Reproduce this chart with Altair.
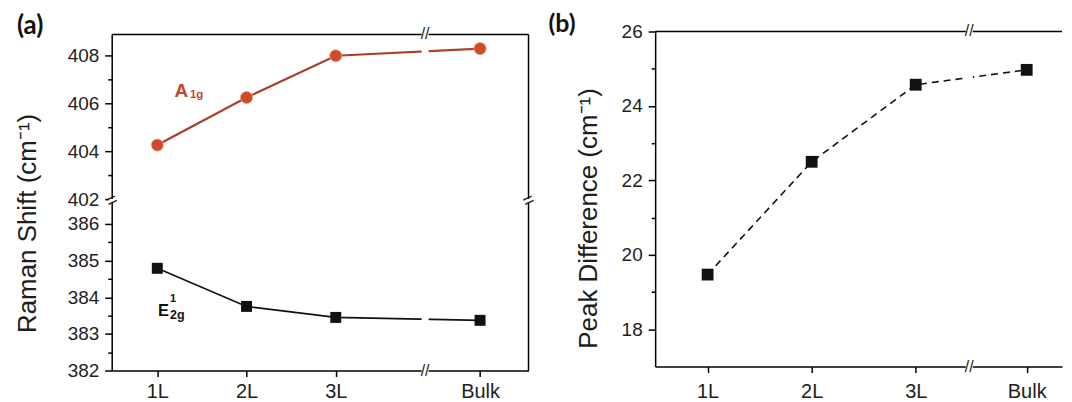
import altair as alt
import pandas as pd

# ---- data ----
layers = ["1L", "2L", "3L", "Bulk"]
a1g = [404.26, 406.25, 408.0, 408.3]
e2g = [384.79, 383.75, 383.45, 383.37]
peak_diff = [19.47, 22.5, 24.57, 24.97]

a_major = [382, 383, 384, 385, 386, 402, 404, 406, 408]
a_minor = [382.5, 383.5, 384.5, 385.5, 403, 405, 407]
b_major = [18, 20, 22, 24, 26]
b_minor = [19, 21, 23, 25]

idx = list(range(len(layers)))
df = pd.DataFrame({"idx": idx, "layer": layers, "a1g": a1g, "e2g": e2g, "diff": peak_diff})
one = pd.DataFrame({"k": [0]})

FONT = "Liberation Sans"
BOLDFONT = "Lato"
INK = "#1e1e1e"
label_js = "[" + ",".join("'" + l + "'" for l in layers) + "][datum.value]"


def minor_test(vals):
    return "indexof([" + ",".join(str(v) for v in vals) + "], datum.value) >= 0"


def y_axis(major, minor, title, tx, ty):
    t = minor_test(minor)
    vals = major + minor
    return alt.Axis(
        values=vals,
        tickCount=len(vals) + 4,
        format=".0f",
        labelExpr=t + " ? '' : datum.label",
        tickSize={"condition": {"test": t, "value": 4}, "value": 7},
        labelPadding=6,
        labelOverlap=False,
        grid=False,
        zindex=0,
        title=title,
        titleX=tx,
        titleY=ty,
        titleAngle=270,
        titleAlign="center",
        titleBaseline="middle",
        titleFontSize=26,
        titleFont=FONT,
        titleFontWeight="normal",
        titleColor=INK,
    )


def x_axis(pad):
    return alt.Axis(
        values=idx,
        tickCount=len(idx) + 2,
        labelExpr=label_js,
        title=None,
        grid=False,
        tickSize=6,
        labelFontSize=20,
        labelPadding=pad,
        labelFlush=False,
        labelOverlap=False,
        labelAngle=0,
        zindex=0,
    )


def rule(color="black", width=1.5):
    return alt.Chart(one).mark_rule(color=color, strokeWidth=width)


def txt(text, size, weight="normal", color=INK, font=FONT, align="left",
        baseline="alphabetic", angle=0):
    return alt.Chart(one).mark_text(text=text, fontSize=size, fontWeight=weight,
                                    color=color, font=font, align=align,
                                    baseline=baseline, angle=angle)


# ---------------- panel (a) ----------------
WA, HA = 418, 340
xa = alt.Scale(domain=[-0.511, 2, 2.5, 3, 3.5], range=[0, 224.7, 314.3, 369.4, WA],
               nice=False, zero=False)
ya = alt.Scale(domain=[382, 386.6, 402, 408.89], range=[HA, 171, 168, 3],
               nice=False, zero=False)

base_a = alt.Chart(df)
xa_enc = alt.X("idx:Q", scale=xa, axis=x_axis(5))
ya_axis = y_axis(a_major, a_minor, "Raman Shift (cm⁻¹)", -84, 192)

a_top = rule().encode(x=alt.value(0), x2=alt.value(WA), y=alt.value(3))
a_right = rule().encode(x=alt.value(WA), y=alt.value(3), y2=alt.value(HA))

line_a1g = base_a.mark_line(color="#a9402a", strokeWidth=2.2).encode(
    x=xa_enc, y=alt.Y("a1g:Q", scale=ya, axis=ya_axis))
pts_a1g = base_a.mark_circle(size=150, fill="#cd4a2d", stroke="#eab07a",
                             strokeWidth=0.8, opacity=1).encode(x="idx:Q", y="a1g:Q")
line_e2g = base_a.mark_line(color="#111111", strokeWidth=1.6).encode(x="idx:Q", y="e2g:Q")
pts_e2g = base_a.mark_square(size=121, color="#111111", opacity=1).encode(x="idx:Q", y="e2g:Q")

a_gap_v = rule("white", 7).encode(x=alt.datum(2.5), y=alt.value(0), y2=alt.value(HA + 3))
a_gap_h = rule("white", 3).encode(y=alt.datum(394), x=alt.value(-3), x2=alt.value(WA + 3))

a_brk_top = txt("//", 16, align="center", baseline="middle").encode(x=alt.datum(2.5), y=alt.value(3))
a_brk_bot = txt("//", 16, align="center", baseline="middle").encode(x=alt.datum(2.5), y=alt.value(HA))
a_brk_left = txt("=", 19, align="center", baseline="middle", angle=335).encode(x=alt.value(0), y=alt.datum(394))
a_brk_right = txt("=", 19, align="center", baseline="middle", angle=335).encode(x=alt.value(WA), y=alt.datum(394))

lab_a = txt("(a)", 26, "bold", "#111111", BOLDFONT, baseline="top").encode(x=alt.value(-95), y=alt.value(-18))
lab_A = txt("A", 19, "bold", "#c4472c").encode(x=alt.value(63), y=alt.value(65.4))
lab_A_sub = txt("1g", 11.5, "bold", "#c4472c").encode(x=alt.value(78.4), y=alt.value(67))
lab_E = txt("E", 16.5, "bold", "#111111").encode(x=alt.value(46.5), y=alt.value(285))
lab_E_sup = txt("1", 11, "bold", "#111111").encode(x=alt.value(58.5), y=alt.value(271.7))
lab_E_sub = txt("2g", 12.5, "bold", "#111111").encode(x=alt.value(58.5), y=alt.value(288))

panel_a = alt.layer(
    line_a1g, a_top, a_right, pts_a1g, line_e2g, pts_e2g,
    a_gap_v, a_gap_h, a_brk_top, a_brk_bot, a_brk_left, a_brk_right,
    lab_a, lab_A, lab_A_sub, lab_E, lab_E_sup, lab_E_sub,
).properties(width=WA, height=HA)

# ---------------- panel (b) ----------------
WB, HB = 408, 336
xb = alt.Scale(domain=[-0.504, 2, 2.5, 3, 3.5], range=[0, 261.3, 315, 372.6, WB],
               nice=False, zero=False)
yb = alt.Scale(domain=[17, 26], nice=False, zero=False)

base_b = alt.Chart(df)
line_b = base_b.mark_line(color="#111111", strokeWidth=1.6, strokeDash=[7, 5]).encode(
    x=alt.X("idx:Q", scale=xb, axis=x_axis(9.5)),
    y=alt.Y("diff:Q", scale=yb, axis=y_axis(b_major, b_minor, "Peak Difference (cm⁻¹)", -67, 187)),
)
pts_b = base_b.mark_square(size=140, color="#111111", opacity=1).encode(x="idx:Q", y="diff:Q")
b_top = rule().encode(x=alt.value(0), x2=alt.value(WB), y=alt.value(0))
b_gap_v = rule("white", 7).encode(x=alt.datum(2.5), y=alt.value(-3), y2=alt.value(HB + 3))
b_brk_top = txt("//", 16, align="center", baseline="middle").encode(x=alt.datum(2.5), y=alt.value(0))
b_brk_bot = txt("//", 16, align="center", baseline="middle").encode(x=alt.datum(2.5), y=alt.value(HB))
lab_b = txt("(b)", 25, "bold", "#111111", BOLDFONT, baseline="top").encode(x=alt.value(-107), y=alt.value(-19))

panel_b = alt.layer(
    line_b, b_top, pts_b, b_gap_v, b_brk_top, b_brk_bot, lab_b
).properties(width=WB, height=HB)

chart = alt.hconcat(panel_a, panel_b, spacing=127, bounds="flush").properties(
    padding={"left": 6, "top": 3, "right": 0, "bottom": 0}
).configure_view(stroke="transparent").configure_axis(
    domainColor="black", domainWidth=1.5, tickColor="black", tickWidth=1.5,
    labelFont=FONT, labelColor=INK, labelFontSize=19,
)

chart.save("out.html", embed_options={"renderer": "svg", "actions": False})
